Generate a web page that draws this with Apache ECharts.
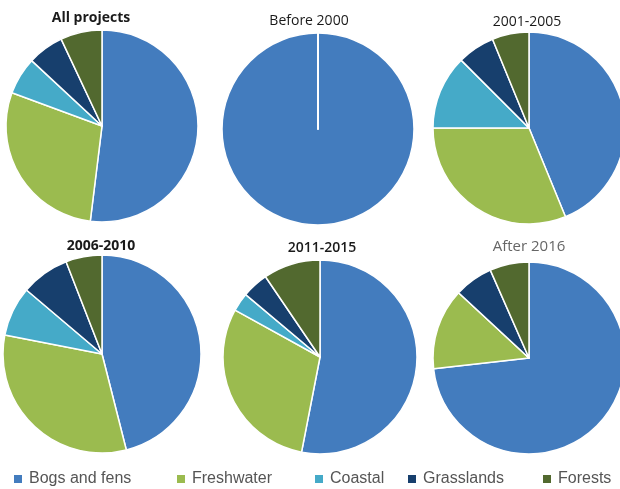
<!DOCTYPE html>
<html>
<head>
<meta charset="utf-8">
<script src="https://cdn.jsdelivr.net/npm/echarts@6/dist/echarts.min.js"></script>
<style>
html,body{margin:0;padding:0;background:#fff;}
#c{width:620px;height:489px;}
</style>
</head>
<body>
<div id="c"></div>
<script>
const categories = ['Bogs and fens', 'Freshwater', 'Coastal', 'Grasslands', 'Forests'];
const periods = ['All projects', 'Before 2000', '2001-2005', '2006-2010', '2011-2015', 'After 2016'];
const bogs      = [52.0, 100, 43.8, 46.0, 53.1, 73.2];
const freshwater= [28.7,   0, 31.2, 32.0, 30.0, 13.7];
const coastal   = [ 6.3,   0, 12.5,  8.1,  3.1,  0];
const grasslands= [ 6.1,   0,  6.3,  7.9,  4.4,  6.5];
const forests   = [ 7.0,   0,  6.2,  5.9,  9.5,  6.6];

const colors = ['#437cbe', '#9bbb4f', '#45aac8', '#173f6d', '#52692f'];
const seriesVals = [bogs, freshwater, coastal, grasslands, forests];

// layout (positions/sizes)
const pieLayout = [
  {cx: 102, cy: 126, r: 96},
  {cx: 318, cy: 129, r: 96},
  {cx: 529, cy: 128, r: 96},
  {cx: 102, cy: 354, r: 99},
  {cx: 320, cy: 357, r: 97},
  {cx: 529, cy: 358, r: 96}
];
const titleLayout = [
  {x: 91,  y: 20,  weight: 'bold',   color: '#1a1a1a', size: 14},
  {x: 309, y: 23,  weight: 'normal', color: '#1a1a1a', size: 14},
  {x: 527, y: 24,  weight: 'normal', color: '#1a1a1a', size: 14},
  {x: 101, y: 248, weight: 'bold',   color: '#1a1a1a', size: 14},
  {x: 322, y: 250, weight: 600,      color: '#1a1a1a', size: 14},
  {x: 529, y: 248, weight: 'normal', color: '#666666', size: 15}
];
const legendLeft = [12, 175, 313, 406, 541];

const chart = echarts.init(document.getElementById('c'), null, {renderer: 'canvas'});

const series = periods.map((p, i) => ({
  type: 'pie',
  name: p,
  center: [pieLayout[i].cx, pieLayout[i].cy],
  radius: [0, pieLayout[i].r],
  startAngle: 90,
  clockwise: true,
  avoidLabelOverlap: false,
  label: {show: false},
  labelLine: {show: false},
  emphasis: {disabled: true},
  silent: true,
  animation: false,
  itemStyle: {borderColor: '#ffffff', borderWidth: 1.5},
  data: categories.map((c, k) => ({
    name: c,
    value: seriesVals[k][i],
    itemStyle: {color: colors[k]}
  }))
}));

const titles = periods.map((p, i) => ({
  text: p,
  left: titleLayout[i].x,
  top: titleLayout[i].y - 9,
  textAlign: 'center',
  padding: 0,
  textStyle: {
    fontFamily: 'Open Sans',
    fontSize: titleLayout[i].size,
    fontWeight: titleLayout[i].weight,
    color: titleLayout[i].color
  }
}));

const legends = categories.map((c, k) => ({
  data: [{name: c, icon: 'rect', itemStyle: {color: colors[k]}}],
  left: legendLeft[k],
  top: 471,
  padding: 0,
  itemWidth: 10,
  itemHeight: 10,
  itemGap: 0,
  selectedMode: false,
  textStyle: {fontFamily: 'Liberation Sans', fontSize: 16, color: '#555555', padding: [0, 0, 0, 1]}
}));

chart.setOption({
  color: colors,
  animation: false,
  title: titles,
  legend: legends,
  series: series
});
</script>
</body>
</html>
